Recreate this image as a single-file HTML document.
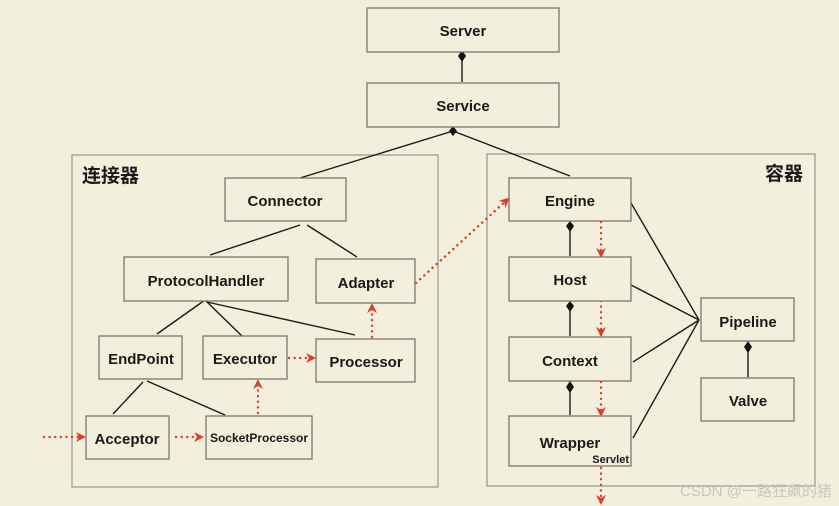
<!DOCTYPE html>
<html><head><meta charset="utf-8"><style>
html,body{margin:0;padding:0;background:#f2efdc;}
svg{display:block}
text{font-family:"Liberation Sans","Noto Sans CJK SC",sans-serif;fill:#1a1a1a}
.b{fill:#f2efdc;stroke:#7a7870;stroke-width:1.3}
.l{stroke:#1a1a1a;stroke-width:1.4;fill:none}
.r{stroke:#d9402a;stroke-width:2.4;stroke-dasharray:0.1 5.5;fill:none;stroke-linecap:round}
.t{font-size:15px;font-weight:bold;text-anchor:middle}
</style></head><body>
<svg width="839" height="506" viewBox="0 0 839 506">
<defs>
<marker id="a" markerWidth="10" markerHeight="10" refX="8" refY="5" orient="auto" markerUnits="userSpaceOnUse">
<path d="M0,0 L10,5 L0,10 L3,5 z" fill="#d9402a"/></marker>
</defs>
<rect width="839" height="506" fill="#f2efdc"/>
<rect x="72" y="155" width="366" height="332" fill="none" stroke="#9a988e" stroke-width="1.2"/>
<rect x="487" y="154" width="328" height="332" fill="none" stroke="#9a988e" stroke-width="1.2"/>
<text x="82" y="182" style="font-size:19px;font-weight:bold">连接器</text>
<text x="803" y="180" style="font-size:19px;font-weight:bold;text-anchor:end">容器</text>
<line class="l" x1="462" y1="56" x2="462" y2="82"/>
<path d="M462,50 L466,56 L462,62 L458,56z" fill="#111"/>
<line class="l" x1="453" y1="131" x2="300" y2="178"/>
<line class="l" x1="453" y1="131" x2="570" y2="176"/>
<path d="M453,126 L457,131 L453,136 L449,131z" fill="#111"/>
<line class="l" x1="300" y1="225" x2="210" y2="255"/>
<line class="l" x1="307" y1="225" x2="357" y2="257"/>
<line class="l" x1="205" y1="300" x2="157" y2="334"/>
<line class="l" x1="205" y1="300" x2="243" y2="337"/>
<line class="l" x1="207" y1="302" x2="355" y2="335"/>
<line class="l" x1="143" y1="382" x2="113" y2="414"/>
<line class="l" x1="147" y1="381" x2="225" y2="415"/>
<line class="l" x1="699" y1="320" x2="631" y2="203"/>
<line class="l" x1="699" y1="320" x2="631" y2="285"/>
<line class="l" x1="699" y1="320" x2="633" y2="362"/>
<line class="l" x1="699" y1="320" x2="633" y2="438"/>
<line class="l" x1="570" y1="226" x2="570" y2="256"/>
<path d="M570,221 L574,226 L570,232 L566,226z" fill="#111"/>
<line class="l" x1="570" y1="306" x2="570" y2="336"/>
<path d="M570,301 L574,306 L570,312 L566,306z" fill="#111"/>
<line class="l" x1="570" y1="387" x2="570" y2="415"/>
<path d="M570,381 L574,387 L570,393 L566,387z" fill="#111"/>
<line class="l" x1="748" y1="347" x2="748" y2="377"/>
<path d="M748,341 L752,347 L748,353 L744,347z" fill="#111"/>
<path class="r" d="M44,437 L84,437" marker-end="url(#a)"/>
<path class="r" d="M176,437 L202,437" marker-end="url(#a)"/>
<path class="r" d="M258,413 L258,381" marker-end="url(#a)"/>
<path class="r" d="M289,358 L314,358" marker-end="url(#a)"/>
<path class="r" d="M372,337 L372,305" marker-end="url(#a)"/>
<path class="r" d="M416,283 L508,199" marker-end="url(#a)"/>
<path class="r" d="M601,222 L601,256" marker-end="url(#a)"/>
<path class="r" d="M601,301 L601,335" marker-end="url(#a)"/>
<path class="r" d="M601,382 L601,415" marker-end="url(#a)"/>
<path class="r" d="M601,468 L601,503" marker-end="url(#a)"/>
<rect class="b" x="367" y="8" width="192" height="44"/><text class="t" x="463" y="36">Server</text>
<rect class="b" x="367" y="83" width="192" height="44"/><text class="t" x="463" y="111">Service</text>
<rect class="b" x="225" y="178" width="121" height="43"/><text class="t" x="285" y="206">Connector</text>
<rect class="b" x="124" y="257" width="164" height="44"/><text class="t" x="206" y="286">ProtocolHandler</text>
<rect class="b" x="316" y="259" width="99" height="44"/><text class="t" x="366" y="288">Adapter</text>
<rect class="b" x="99" y="336" width="83" height="43"/><text class="t" x="141" y="364">EndPoint</text>
<rect class="b" x="203" y="336" width="84" height="43"/><text class="t" x="245" y="364">Executor</text>
<rect class="b" x="316" y="339" width="99" height="43"/><text class="t" x="366" y="367">Processor</text>
<rect class="b" x="86" y="416" width="83" height="43"/><text class="t" x="127" y="444">Acceptor</text>
<rect class="b" x="206" y="416" width="106" height="43"/><text class="t" x="259" y="442" style="font-size:12px">SocketProcessor</text>
<rect class="b" x="509" y="178" width="122" height="43"/><text class="t" x="570" y="206">Engine</text>
<rect class="b" x="509" y="257" width="122" height="44"/><text class="t" x="570" y="285">Host</text>
<rect class="b" x="509" y="337" width="122" height="44"/><text class="t" x="570" y="366">Context</text>
<rect class="b" x="509" y="416" width="122" height="50"/><text class="t" x="570" y="448">Wrapper</text>
<text x="629" y="463" style="font-size:11px;font-weight:bold;text-anchor:end">Servlet</text>
<rect class="b" x="701" y="298" width="93" height="43"/><text class="t" x="748" y="327">Pipeline</text>
<rect class="b" x="701" y="378" width="93" height="43"/><text class="t" x="748" y="406">Valve</text>
<text x="680" y="496" style="font-size:15px;fill:#c8c6c0">CSDN @一路狂飙的猪</text>
</svg>
</body></html>
